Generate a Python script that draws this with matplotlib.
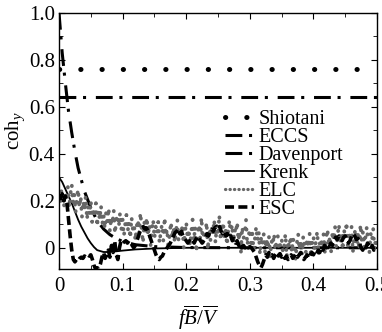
import numpy as np
import matplotlib
matplotlib.use("Agg")
from matplotlib import pyplot as plt
from matplotlib.lines import Line2D

plt.rcParams['font.family'] = 'Liberation Serif'
plt.rcParams['mathtext.fontset'] = 'custom'
plt.rcParams['mathtext.rm'] = 'Liberation Serif'
plt.rcParams['mathtext.it'] = 'Liberation Serif:italic'

# model coherence curves (reduced frequency fB/V)
shiotani_val = 0.76
eccs_val = 0.64

davenport_f = [0, 0.005, 0.01, 0.015, 0.02, 0.025, 0.03, 0.04, 0.05, 0.06, 0.07,
               0.08, 0.09, 0.1, 0.12, 0.15, 0.2, 0.3, 0.4, 0.5]
davenport_c = [1.0, 0.83, 0.70, 0.58, 0.49, 0.41, 0.34, 0.24, 0.17, 0.115, 0.08,
               0.056, 0.039, 0.027, 0.013, 0.005, 0.001, 0.0, 0.0, 0.0]

krenk_f = [0, 0.005, 0.01, 0.015, 0.02, 0.025, 0.03, 0.035, 0.04, 0.045, 0.05,
           0.055, 0.06, 0.07, 0.08, 0.1, 0.12, 0.15, 0.2, 0.3, 0.4, 0.5]
krenk_c = [0.30, 0.28, 0.25, 0.22, 0.19, 0.155, 0.12, 0.09, 0.065, 0.04, 0.02,
           0.003, -0.01, -0.018, -0.018, -0.012, -0.007, -0.003, 0.0, 0.0, 0.0, 0.0]

# measured coherence, ELC (step 0.002)
elc_c = [
    0.22, 0.19, 0.25, 0.21, 0.18, 0.24, 0.20, 0.26, 0.17, 0.23,
    0.27, 0.19, 0.23, 0.15, 0.21, 0.25, 0.17, 0.22, 0.13, 0.20,
    0.16, 0.22, 0.12, 0.18, 0.14, 0.20, 0.11, 0.17, 0.13, 0.19,
    0.09, 0.16, 0.12, 0.18, 0.10, 0.14, 0.08, 0.15, 0.11, 0.17,
    0.07, 0.13, 0.10, 0.16, 0.06, 0.12, 0.14, 0.09, 0.15, 0.08,
    0.12, 0.05, 0.10, 0.14, 0.07, 0.11, 0.04, 0.13, 0.08, 0.10,
    0.03, 0.09, 0.12, 0.06, 0.15, 0.08, 0.02, 0.11, 0.07, 0.13,
    0.05, 0.10, 0.01, 0.08, 0.12, 0.04, 0.09, 0.06, 0.11, 0.02,
    0.07, 0.10, 0.03, 0.13, 0.05, 0.08, -0.01, 0.06, 0.11, 0.04,
    0.09, 0.02, 0.07, 0.12, 0.03, 0.08, 0.05, 0.10, 0.00, 0.06,
    0.11, 0.04, 0.08, 0.01, 0.07, 0.12, 0.03, 0.09, -0.02, 0.06,
    0.10, 0.04, 0.13, 0.02, 0.07, 0.05, 0.11, -0.01, 0.08, 0.03,
    0.09, 0.06, 0.12, 0.02, 0.10, 0.05, 0.14, 0.03, 0.08, 0.11,
    0.04, 0.09, 0.01, 0.07, 0.12, 0.05, 0.10, 0.02, 0.08, 0.06,
    0.11, 0.03, 0.07, -0.02, 0.09, 0.04, 0.06, 0.12, 0.01, 0.05,
    0.08, 0.02, 0.06, -0.01, 0.04, 0.09, 0.03, 0.07, -0.03, 0.05,
    0.02, 0.06, -0.02, 0.04, 0.00, 0.05, -0.04, 0.03, 0.01, 0.06,
    -0.01, 0.03, 0.05, -0.03, 0.02, 0.04, -0.02, 0.01, 0.06, -0.04,
    0.03, 0.00, 0.05, -0.02, 0.04, 0.01, -0.05, 0.02, 0.06, -0.01,
    0.03, -0.03, 0.05, 0.01, -0.02, 0.04, 0.00, 0.06, -0.04, 0.02,
    0.05, -0.01, 0.03, 0.07, -0.03, 0.02, 0.04, 0.00, 0.06, -0.02,
    0.04, 0.08, 0.01, 0.05, -0.02, 0.07, 0.03, 0.09, 0.00, 0.05,
    0.10, 0.02, 0.06, -0.01, 0.08, 0.04, 0.11, 0.01, 0.07, 0.03,
    0.09, -0.02, 0.05, 0.08, 0.02, 0.06, -0.01, 0.10, 0.03, 0.07,
    0.00, 0.05, 0.09, 0.02, -0.02, 0.06, 0.03, 0.08, -0.01, 0.04,
    0.02,
]

# measured coherence, ESC (step 0.0025)
esc_c = [
    0.22, 0.21, 0.23, 0.20, 0.22, 0.19, 0.12, 0.05,
    -0.01, -0.05, -0.06, -0.05, -0.055, -0.045, -0.04, -0.045,
    -0.035, -0.04, -0.03, -0.035, -0.03, -0.05, -0.075, -0.09,
    -0.085, -0.09, -0.07, -0.04, -0.02, -0.045, -0.03, -0.01,
    -0.04, 0.01, -0.02, 0.03, -0.03, -0.05, 0.0, 0.03,
    0.02, 0.025, 0.03, 0.02, 0.03, 0.025, 0.01, 0.0,
    0.01, 0.03, 0.05, 0.07, 0.085, 0.09, 0.08, 0.085,
    0.07, 0.05, 0.03, 0.01, -0.01, -0.03, -0.045, -0.05,
    -0.04, -0.035, -0.02, -0.01, 0.0, 0.01, 0.02, 0.035,
    0.05, 0.065, 0.07, 0.08, 0.06, 0.07, 0.05, 0.04,
    0.03, 0.02, 0.03, 0.02, 0.03, 0.02, 0.035, 0.05,
    0.04, 0.03, 0.02, 0.03, 0.04, 0.06, 0.05, 0.07,
    0.08, 0.07, 0.085, 0.09, 0.08, 0.09, 0.07, 0.06,
    0.07, 0.05, 0.06, 0.04, 0.05, 0.03, 0.04, 0.02,
    0.03, 0.01, 0.02, 0.0, 0.01, 0.0, 0.01, 0.0,
    0.005, 0.0, -0.01, -0.02, -0.04, -0.06, -0.075, -0.085,
    -0.07, -0.05, -0.03, -0.04, -0.02, -0.035, -0.03, -0.045,
    -0.03, -0.02, -0.035, -0.025, -0.04, -0.03, -0.045, -0.035,
    -0.05, -0.04, -0.03, -0.045, -0.035, -0.025, -0.04, -0.03,
    -0.02, -0.035, -0.05, -0.04, -0.03, -0.045, -0.03, -0.02,
    -0.03, -0.015, -0.025, -0.01, -0.02, 0.0, -0.01, 0.01,
    0.0, 0.015, 0.01, 0.02, 0.01, 0.03, 0.045, 0.035,
    0.05, 0.04, 0.03, 0.045, 0.05, 0.04, 0.02, 0.03,
    0.05, 0.06, 0.05, 0.035, 0.04, 0.02, 0.0, -0.01,
    0.01, 0.0, 0.02, 0.01, -0.005, 0.01, -0.01, 0.0,
    0.005,
]

xticks = [0, 0.1, 0.2, 0.3, 0.4, 0.5]
xticklabels = ['0', '0.1', '0.2', '0.3', '0.4', '0.5']
yticks = [0, 0.2, 0.4, 0.6, 0.8, 1.0]
yticklabels = ['0', '0.2', '0.4', '0.6', '0.8', '1.0']

fig = plt.figure(figsize=(3.82, 3.32), dpi=100)
ax = fig.add_axes([0.1545, 0.19, 0.8325, 0.771])

elc_f = np.linspace(0, 0.5, len(elc_c))
esc_f = np.linspace(0, 0.5, len(esc_c))

dashdot = (0, (5.5, 2.2, 1.0, 3.2))
h_shio, = ax.plot([0, 0.5], [shiotani_val, shiotani_val], color='black', lw=3.6,
                  linestyle=(0, (0.05, 4.2)), dash_capstyle='round')
h_eccs, = ax.plot([0, 0.5], [eccs_val, eccs_val], color='black', lw=2.2, linestyle=dashdot)
h_dav, = ax.plot(davenport_f, davenport_c, color='black', lw=2.2, linestyle=dashdot)
h_krenk, = ax.plot(krenk_f, krenk_c, color='black', lw=1.3)
ax.plot(elc_f, elc_c, color='0.4', lw=2.7, linestyle=(0, (0.1, 2.4)),
        dash_capstyle='round')
h_esc, = ax.plot(esc_f, esc_c, color='black', lw=2.6, linestyle=(0, (2.5, 1.2)))

# legend sample for ELC drawn with tighter dot spacing
h_elc = Line2D([], [], color='0.4', lw=2.3, linestyle=(0, (0.1, 1.3)), dash_capstyle='round')

ax.set_xlim(0, 0.5)
ax.set_ylim(-0.09, 1.0)
ax.set_xticks(xticks)
ax.set_xticklabels(xticklabels)
ax.set_yticks(yticks)
ax.set_yticklabels(yticklabels)
ax.set_xticks([0.05, 0.15, 0.25, 0.35, 0.45], minor=True)
ax.set_yticks([0.1, 0.3, 0.5, 0.7, 0.9], minor=True)
ax.tick_params(which='both', direction='in', top=True, right=True, labelsize=15)
ax.tick_params(axis='y', which='major', pad=3)
ax.tick_params(axis='x', which='major', pad=6)
ax.tick_params(which='major', length=4)
ax.tick_params(which='minor', length=3)
for s in ax.spines.values():
    s.set_linewidth(1.0)

ax.set_ylabel(r'coh$_y$', fontsize=15)
ax.yaxis.set_label_coords(-0.10, 0.54)
ax.set_xlabel(r'$f\overline{B}/\overline{V}$', fontsize=15)
ax.xaxis.set_label_coords(0.44, -0.135)

ax.legend([h_shio, h_eccs, h_dav, h_krenk, h_elc, h_esc],
          ['Shiotani', 'ECCS', 'Davenport', 'Krenk', 'ELC', 'ESC'],
          loc='upper left', bbox_to_anchor=(0.49, 0.66), frameon=False, fontsize=14.5,
          handlelength=1.45, handletextpad=0.2, labelspacing=-0.06, borderpad=0)

plt.savefig('out.png', dpi=100)
